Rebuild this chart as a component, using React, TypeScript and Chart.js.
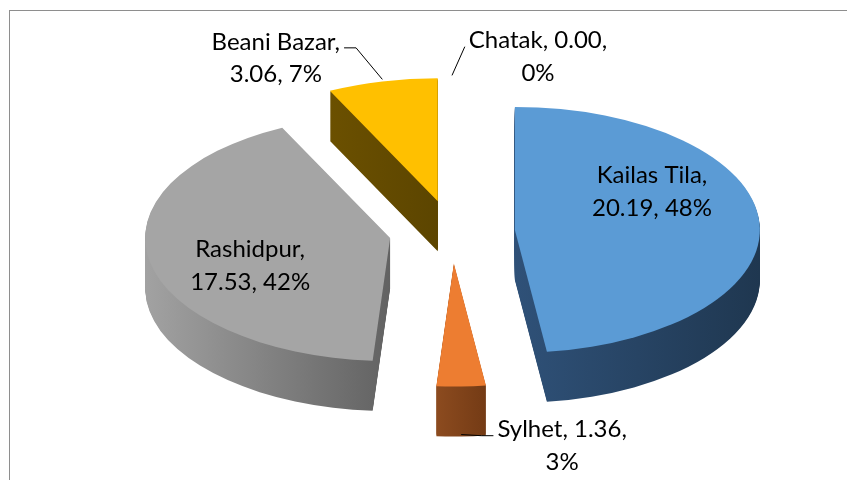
import React, { useEffect, useRef } from 'react';
import { Chart, registerables } from 'chart.js';

Chart.register(...registerables);

// ---- data ----
const categories = ['Kailas Tila', 'Sylhet', 'Rashidpur', 'Beani Bazar', 'Chatak'];
const values = [20.19, 1.36, 17.53, 3.06, 0.0];

// ---- styles ----
const topColors = ['#5B9BD5', '#ED7D31', '#A5A5A5', '#FFC000', '#4472C4'];
const wallColors = [
  ['#2f5178', '#1f3750'],
  ['#8c4b1f', '#743b15'],
  ['#a2a2a2', '#626262'],
  ['#6b5000', '#5c4500'],
  ['#2f5597', '#2f5597'],
];
// data label layout (line break after category = 1, after value = 2)
const labelBreak = [1, 2, 1, 1, 2];
// label centre, polar from the exploded slice apex: [degrees clockwise from top, fraction of radius]
const labelPolar = [
  [61, 0.64],
  [163.4, 1.547],
  [248.3, 0.615],
  [330.4, 1.338],
  [16.75, 1.218],
];
const leaderSide: (string | null)[] = [null, 'left', null, 'right', 'left'];
const leaderElbow = [0, 12, 0, 12, 0];
const leaderToBase = [false, true, false, false, false];

const TILT = 0.502;
const EXPLODE = 63;
const DEPTH = 50;
const FONT = '24px Lato';
const LINE_H = 32.5;

function sliceGeom(arc: any) {
  const mid = (arc.startAngle + arc.endAngle) / 2;
  return { mid, ex: Math.cos(mid) * EXPLODE, ey: Math.sin(mid) * EXPLODE };
}

const pie3d = {
  id: 'pie3d',
  beforeDatasetsDraw(chart: any) {
    const ctx: CanvasRenderingContext2D = chart.ctx;
    const arcs = chart.getDatasetMeta(0).data;

    const drawLayer = (arc: any, dyScreen: number, opts: any) => {
      const { ex, ey } = sliceGeom(arc);
      ctx.save();
      ctx.translate(arc.x, arc.y + dyScreen);
      ctx.scale(1, TILT);
      ctx.translate(-arc.x + ex, -arc.y + ey);
      const orig = arc.options;
      if (opts) arc.options = opts;
      arc.draw(ctx);
      arc.options = orig;
      ctx.restore();
    };

    // side walls
    arcs.forEach((arc: any, i: number) => {
      if (!arc.circumference) return;
      let minX = arc.x;
      let maxX = arc.x;
      for (let t = 0; t <= 64; t++) {
        const a = arc.startAngle + ((arc.endAngle - arc.startAngle) * t) / 64;
        const x = arc.x + Math.cos(a) * arc.outerRadius;
        minX = Math.min(minX, x);
        maxX = Math.max(maxX, x);
      }
      const g = ctx.createLinearGradient(minX, 0, maxX + 0.01, 0);
      g.addColorStop(0, wallColors[i][0]);
      g.addColorStop(1, wallColors[i][1]);
      const wallOpts = Object.assign({}, arc.options, { backgroundColor: g, borderWidth: 0 });
      for (let s = DEPTH; s >= 1; s -= 1) drawLayer(arc, s, wallOpts);
    });
    // top faces
    arcs.forEach((arc: any) => {
      if (!arc.circumference) return;
      drawLayer(arc, 0, null);
    });
    return false;
  },
  afterDraw(chart: any) {
    const ctx: CanvasRenderingContext2D = chart.ctx;
    const arcs = chart.getDatasetMeta(0).data;
    const total = values.reduce((a, b) => a + b, 0);
    ctx.save();
    ctx.font = FONT;
    ctx.fillStyle = '#000';
    ctx.strokeStyle = '#000';
    ctx.lineWidth = 1;
    ctx.textAlign = 'center';
    ctx.textBaseline = 'middle';
    arcs.forEach((arc: any, i: number) => {
      const { mid, ex, ey } = sliceGeom(arc);
      const apexX = arc.x + ex;
      const apexY = arc.y + ey * TILT;
      const [deg, f] = labelPolar[i];
      const th = (deg * Math.PI) / 180 - Math.PI / 2;
      const cx = apexX + Math.cos(th) * f * arc.outerRadius;
      const cy = apexY + Math.sin(th) * f * arc.outerRadius * TILT;
      const parts = [
        categories[i],
        values[i].toFixed(2),
        Math.round((values[i] / total) * 100) + '%',
      ];
      const b = labelBreak[i];
      const lines = [parts.slice(0, b).join(', ') + ',', parts.slice(b).join(', ')];
      lines.forEach((ln, j) => ctx.fillText(ln, cx, cy + (j - 0.5) * LINE_H));
      const side = leaderSide[i];
      if (side) {
        const w = ctx.measureText(lines[0]).width;
        const dir = side === 'right' ? 1 : -1;
        const sx = cx + dir * (w / 2 + 4);
        const sy = cy - LINE_H / 2 + 6;
        const tx = apexX + Math.cos(mid) * arc.outerRadius;
        const ty =
          apexY + Math.sin(mid) * arc.outerRadius * TILT + (leaderToBase[i] ? DEPTH : 0) - 2;
        ctx.beginPath();
        ctx.moveTo(sx, sy);
        if (leaderElbow[i]) ctx.lineTo(sx + dir * leaderElbow[i], sy);
        ctx.lineTo(tx, ty);
        ctx.stroke();
      }
    });
    ctx.restore();
  },
};

export default function App() {
  const ref = useRef<HTMLCanvasElement | null>(null);
  useEffect(() => {
    if (!ref.current) return;
    const chart = new Chart(ref.current, {
      type: 'pie',
      data: {
        labels: categories,
        datasets: [
          {
            data: values,
            backgroundColor: topColors,
            borderWidth: 0,
            clip: false as any,
          },
        ],
      },
      options: {
        animation: false,
        responsive: true,
        maintainAspectRatio: false,
        events: [],
        radius: 245,
        layout: { padding: { left: 57, right: 0, top: 0, bottom: 16 } },
        plugins: {
          legend: { display: false },
          tooltip: { enabled: false },
        },
      } as any,
      plugins: [pie3d as any],
    });
    return () => chart.destroy();
  }, []);

  return (
    <div
      style={{
        position: 'fixed',
        left: 0,
        top: 0,
        width: 847,
        height: 480,
        overflow: 'hidden',
        background: '#fff',
      }}
    >
      <div
        style={{
          position: 'absolute',
          left: 9,
          top: 10,
          width: 900,
          height: 600,
          border: '1px solid #8e8e8e',
        }}
      />
      <div style={{ position: 'absolute', left: 0, top: 0, width: 847, height: 480 }}>
        <canvas ref={ref} />
      </div>
    </div>
  );
}
